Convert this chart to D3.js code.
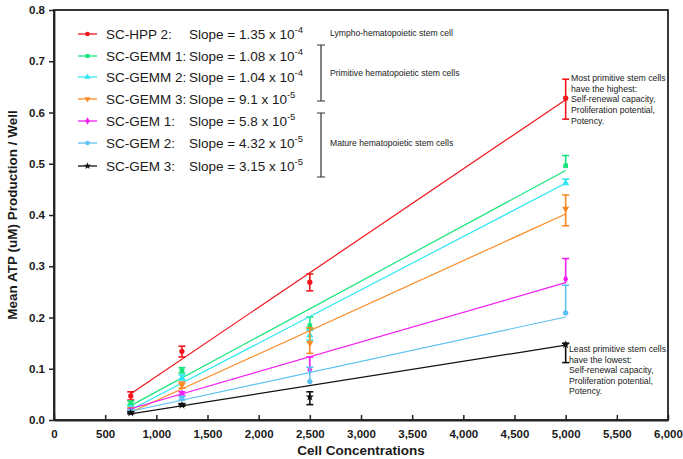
<!DOCTYPE html>
<html>
<head>
<meta charset="utf-8">
<title>Mean ATP production</title>
<script src="https://cdn.jsdelivr.net/npm/d3@7"></script>
<style>
  body { margin: 0; background: #fff; }
  text { font-family: "Liberation Sans", Arial, sans-serif; fill: #1a1a1a; }
  .axis text { font-weight: bold; font-size: 11.5px; }
  .axis path, .axis line { stroke: #222; }
</style>
</head>
<body>
<div id="chart"></div>
<script>
// cell concentrations measured
var concentrations = [750, 1250, 2500, 5000];

var seriesNames = ["SC-HPP 2:", "SC-GEMM 1:", "SC-GEMM 2:", "SC-GEMM 3:", "SC-GEM 1:", "SC-GEM 2:", "SC-GEM 3:"];
var seriesColors = ["#f2161c", "#16e57c", "#2ee6f2", "#fb8a24", "#f21ef2", "#5cc2f2", "#111111"];
var seriesSymbols = [d3.symbolCircle, d3.symbolSquare, d3.symbolTriangle, "down", d3.symbolDiamond, d3.symbolCircle, d3.symbolStar];
var slopeCoef = ["1.35", "1.08", "1.04", "9.1", "5.8", "4.32", "3.15"];
var slopeExp = ["-4", "-4", "-4", "-5", "-5", "-5", "-5"];

// means and error bars (upper / lower)
var hpp2Mean  = [0.047, 0.134, 0.269, 0.628];
var hpp2Up    = [0.008, 0.010, 0.016, 0.037];
var hpp2Down  = [0.008, 0.011, 0.017, 0.041];
var gemm1Mean = [0.033, 0.096, 0.184, 0.496];
var gemm1Up   = [0.004, 0.006, 0.017, 0.020];
var gemm1Down = [0.003, 0.004, 0.006, 0.000];
var gemm2Mean = [0.023, 0.082, 0.165, 0.462];
var gemm2Up   = [0.004, 0.006, 0.010, 0.008];
var gemm2Down = [0.003, 0.004, 0.009, 0.000];
var gemm3Mean = [0.020, 0.068, 0.150, 0.412];
var gemm3Up   = [0.004, 0.006, 0.030, 0.027];
var gemm3Down = [0.003, 0.006, 0.020, 0.033];
var gem1Mean  = [0.018, 0.051, 0.098, 0.275];
var gem1Up    = [0.003, 0.004, 0.025, 0.040];
var gem1Down  = [0.002, 0.003, 0.000, 0.000];
var gem2Mean  = [0.017, 0.043, 0.075, 0.209];
var gem2Up    = [0.003, 0.003, 0.028, 0.054];
var gem2Down  = [0.002, 0.004, 0.000, 0.000];
var gem3Mean  = [0.014, 0.029, 0.045, 0.147];
var gem3Up    = [0.002, 0.003, 0.010, 0.003];
var gem3Down  = [0.002, 0.002, 0.015, 0.035];

// linear fit lines: value at 750 and at 5000 cells
var fitStart = [0.051, 0.028, 0.020, 0.015, 0.022, 0.017, 0.012];
var fitEnd   = [0.625, 0.487, 0.462, 0.402, 0.268, 0.201, 0.146];

var xTicks = [0, 500, 1000, 1500, 2000, 2500, 3000, 3500, 4000, 4500, 5000, 5500, 6000];
var yTicks = [0, 0.1, 0.2, 0.3, 0.4, 0.5, 0.6, 0.7, 0.8];

var groupLabels = ["Lympho-hematopoietic stem cell", "Primitive hematopoietic stem cells", "Mature hematopoietic stem cells"];
var topNote = ["Most primitive stem cells", "have the highest:", "Self-renewal capacity,", "Proliferation potential,", "Potency."];
var bottomNote = ["Least primitive stem cells", "have the lowest:", "Self-renewal capacity,", "Proliferation potential,", "Potency."];

var means = [hpp2Mean, gemm1Mean, gemm2Mean, gemm3Mean, gem1Mean, gem2Mean, gem3Mean];
var ups = [hpp2Up, gemm1Up, gemm2Up, gemm3Up, gem1Up, gem2Up, gem3Up];
var downs = [hpp2Down, gemm1Down, gemm2Down, gemm3Down, gem1Down, gem2Down, gem3Down];

var series = seriesNames.map(function(name, i) {
  return {
    name: name, color: seriesColors[i], symbol: seriesSymbols[i],
    fit: [[concentrations[0], fitStart[i]], [concentrations[3], fitEnd[i]]],
    points: concentrations.map(function(c, j) {
      return {x: c, y: means[i][j], hi: means[i][j] + ups[i][j], lo: means[i][j] - downs[i][j]};
    })
  };
});

var W = 683, H = 459;
var margin = {top: 10, right: 15, bottom: 39, left: 54};
var width = W - margin.left - margin.right,
    height = H - margin.top - margin.bottom;

var svg = d3.select("#chart").append("svg")
    .attr("width", W).attr("height", H);
var g = svg.append("g")
    .attr("transform", "translate(" + margin.left + "," + margin.top + ")");

var x = d3.scaleLinear().domain([0, 6000]).range([0, width]);
var y = d3.scaleLinear().domain([0, 0.8]).range([height, 0]);

// frame
g.append("rect")
    .attr("width", width).attr("height", height)
    .attr("fill", "none").attr("stroke", "#222").attr("stroke-width", 1.8);

g.append("g").attr("class", "axis")
    .attr("transform", "translate(0," + height + ")")
    .call(d3.axisBottom(x).tickValues(xTicks).tickFormat(d3.format(",")).tickSizeInner(-5).tickSizeOuter(0).tickPadding(10))
    .call(function(s) { s.select(".domain").attr("stroke-width", 1.8); s.selectAll("line").attr("stroke-width", 1.5); });

g.append("g").attr("class", "axis")
    .call(d3.axisLeft(y).tickValues(yTicks).tickFormat(d3.format(".1f")).tickSizeInner(5).tickSizeOuter(0).tickPadding(4))
    .call(function(s) { s.select(".domain").attr("stroke-width", 1.8); s.selectAll("line").attr("stroke-width", 1.5); });

svg.append("text")
    .attr("x", margin.left + width / 2).attr("y", H - 4)
    .attr("text-anchor", "middle")
    .style("font-weight", "bold").style("font-size", "13.5px")
    .text("Cell Concentrations");

svg.append("text")
    .attr("transform", "translate(17," + (margin.top + height / 2) + ") rotate(-90)")
    .attr("text-anchor", "middle")
    .style("font-weight", "bold").style("font-size", "13.5px")
    .text("Mean ATP (uM) Production / Well");

function symbolPath(sym, size) {
  if (sym === "down") return d3.symbol(d3.symbolTriangle, size)();
  return d3.symbol(sym, size)();
}

var line = d3.line().x(function(d) { return x(d[0]); }).y(function(d) { return y(d[1]); });

var sg = g.selectAll(".series").data(series).enter().append("g").attr("class", "series");

sg.append("path")
    .attr("d", function(d) { return line(d.fit); })
    .attr("fill", "none")
    .attr("stroke", function(d) { return d.color; })
    .attr("stroke-width", 1.2);

var pts = sg.selectAll(".pt").data(function(d) {
  return d.points.map(function(p) { return Object.assign({color: d.color, symbol: d.symbol}, p); });
}).enter().append("g").attr("class", "pt");

pts.append("line")
    .attr("x1", function(d) { return x(d.x); }).attr("x2", function(d) { return x(d.x); })
    .attr("y1", function(d) { return y(d.hi); }).attr("y2", function(d) { return y(d.lo); })
    .attr("stroke", function(d) { return d.color; }).attr("stroke-width", 1.6);

pts.selectAll(".cap").data(function(d) {
  var caps = [];
  if (d.hi > d.y) caps.push({x: d.x, v: d.hi, color: d.color});
  if (d.lo < d.y) caps.push({x: d.x, v: d.lo, color: d.color});
  return caps;
}).enter().append("line")
    .attr("x1", function(d) { return x(d.x) - 3.5; }).attr("x2", function(d) { return x(d.x) + 3.5; })
    .attr("y1", function(d) { return y(d.v); }).attr("y2", function(d) { return y(d.v); })
    .attr("stroke", function(d) { return d.color; }).attr("stroke-width", 1.6);

pts.append("path")
    .attr("d", function(d) { return symbolPath(d.symbol, 22); })
    .attr("transform", function(d) {
      return "translate(" + x(d.x) + "," + y(d.y) + ")" + (d.symbol === "down" ? " rotate(180)" : "");
    })
    .attr("fill", function(d) { return d.color; });

// legend
var legend = svg.append("g").selectAll("g").data(series).enter().append("g")
    .attr("transform", function(d, i) { return "translate(0," + [34, 56, 77, 99, 121, 143, 166][i] + ")"; });

legend.append("line")
    .attr("x1", 78).attr("x2", 97).attr("y1", 0).attr("y2", 0)
    .attr("stroke", function(d) { return d.color; }).attr("stroke-width", 1.3);
legend.append("path")
    .attr("d", function(d) { return symbolPath(d.symbol, 16); })
    .attr("transform", function(d) { return "translate(87.5,0)" + (d.symbol === "down" ? " rotate(180)" : ""); })
    .attr("fill", function(d) { return d.color; });
legend.append("text")
    .attr("x", 106).attr("y", 5)
    .style("font-size", "13.5px")
    .text(function(d) { return d.name; });
var slopeText = legend.append("text")
    .attr("x", 189).attr("y", 5)
    .style("font-size", "13.5px");
slopeText.append("tspan").text(function(d, i) { return "Slope = " + slopeCoef[i] + " x 10"; });
slopeText.append("tspan").attr("dy", -6).style("font-size", "9.5px").text(function(d, i) { return slopeExp[i]; });

// group brackets
var brackets = [[45, 101], [113, 177]];
svg.append("g").selectAll("path").data(brackets).enter().append("path")
    .attr("d", function(d) { return "M317," + d[0] + "H325M321," + d[0] + "V" + d[1] + "M317," + d[1] + "H325"; })
    .attr("fill", "none").attr("stroke", "#333").attr("stroke-width", 1.2);

svg.append("g").selectAll("text").data(groupLabels).enter().append("text")
    .attr("x", 330).attr("y", function(d, i) { return [36, 76, 146][i]; })
    .style("font-size", "8.6px")
    .text(function(d) { return d; });

// side notes
svg.append("g").selectAll("text").data(topNote).enter().append("text")
    .attr("x", 571).attr("y", function(d, i) { return 81 + i * 10.7; })
    .style("font-size", "8.7px")
    .text(function(d) { return d; });
svg.append("g").selectAll("text").data(bottomNote).enter().append("text")
    .attr("x", 569).attr("y", function(d, i) { return 352 + i * 10.5; })
    .style("font-size", "8.7px")
    .text(function(d) { return d; });
</script>
</body>
</html>
